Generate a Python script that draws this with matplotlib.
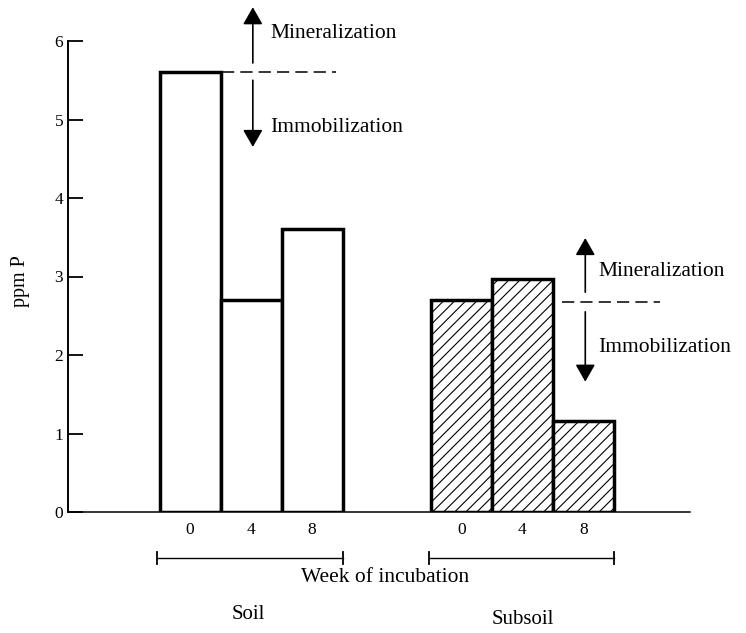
import matplotlib
matplotlib.use("Agg")
import matplotlib.pyplot as plt
import numpy as np

# ---- data ----
weeks = ["0", "4", "8"]
soil_ppm = [5.6, 2.7, 3.6]
subsoil_ppm = [2.7, 2.97, 1.16]
group_labels = ["Soil", "Subsoil"]
y_ticks = [0, 1, 2, 3, 4, 5, 6]
x_title = "Week of incubation"
y_title = "ppm P"
up_label = "Mineralization"
down_label = "Immobilization"

plt.rcParams["font.family"] = ["Liberation Serif", "DejaVu Serif"]
plt.rcParams["hatch.linewidth"] = 0.8
plt.rcParams["hatch.color"] = "#222222"

fig = plt.figure(figsize=(7.46, 6.33), dpi=100)
ax = fig.add_axes([68 / 746, 121 / 633, 622 / 746, 471 / 633])

soil_x = np.array([2.0, 3.0, 4.0])
sub_x = np.array([6.45, 7.45, 8.45])
w = 1.0

ax.bar(soil_x, soil_ppm, width=w, facecolor="white", edgecolor="black",
       linewidth=2.5, zorder=3)
ax.bar(sub_x, subsoil_ppm, width=w, facecolor="white", edgecolor="black",
       linewidth=2.5, hatch="///", zorder=3)

ax.set_xlim(0, 622 / 61)
ax.set_ylim(0, 6)
ax.spines["top"].set_visible(False)
ax.spines["right"].set_visible(False)
ax.spines["left"].set_linewidth(1.4)
ax.spines["bottom"].set_linewidth(1.1)

ax.set_yticks(y_ticks)
ax.set_yticklabels([str(t) for t in y_ticks])
ax.tick_params(axis="y", direction="in", length=11, width=1.3, pad=3.5,
               labelsize=12.5)
ax.set_xticks(np.concatenate([soil_x, sub_x]))
ax.set_xticklabels(weeks + weeks)
ax.tick_params(axis="x", length=0, pad=7, labelsize=12.5)

ax.text(-0.077, 0.49, y_title, transform=ax.transAxes, rotation=90,
        ha="center", va="center", fontsize=14.5)

# brackets under the groups
by = -0.586
for xs in (soil_x, sub_x):
    x0, x1 = xs[0] - w / 2 - 0.04, xs[-1] + w / 2
    ax.plot([x0, x1], [by, by], color="black", lw=1.0, clip_on=False)
    for xe in (x0, x1):
        ax.plot([xe, xe], [by - 0.08, by + 0.08], color="black", lw=1.3,
                clip_on=False)

ax.text(5.2, -0.83, x_title, ha="center", va="center", fontsize=15.5)
ax.text(soil_x[1] - 0.05, -1.31, group_labels[0], ha="center", va="center",
        fontsize=15)
ax.text(sub_x[1], -1.37, group_labels[1], ha="center", va="center",
        fontsize=15)

# mineralization / immobilization indicators
arrow_style = "-|>,head_length=1.05,head_width=0.6"


def indicator(ref, x_arrow, x_line0, x_line1, up_top, up_bot, dn_top, dn_bot,
              x_text, y_up_text, y_dn_text):
    ax.plot([x_line0, x_line1], [ref, ref], color="black", lw=1.1,
            dashes=(8, 4), clip_on=False, zorder=4)
    ax.annotate("", xy=(x_arrow, up_top), xytext=(x_arrow, up_bot),
                arrowprops=dict(arrowstyle=arrow_style, color="black", lw=1.2,
                                shrinkA=0, shrinkB=0, mutation_scale=10),
                annotation_clip=False)
    ax.annotate("", xy=(x_arrow, dn_bot), xytext=(x_arrow, dn_top),
                arrowprops=dict(arrowstyle=arrow_style, color="black", lw=1.2,
                                shrinkA=0, shrinkB=0, mutation_scale=10),
                annotation_clip=False)
    ax.text(x_text, y_up_text, up_label, ha="left", va="center",
            fontsize=15.5)
    ax.text(x_text, y_dn_text, down_label, ha="left", va="center",
            fontsize=15.5)


indicator(soil_ppm[0], 3.03, 2.52, 4.39, 6.43, 5.72, 5.50, 4.65,
          3.32, 6.1, 4.9)
indicator(subsoil_ppm[0] - 0.03, 8.48, 8.10, 9.70, 3.49, 2.80, 2.55, 1.66,
          8.69, 3.06, 2.10)

fig.savefig("out.png", dpi=100, facecolor="white")
